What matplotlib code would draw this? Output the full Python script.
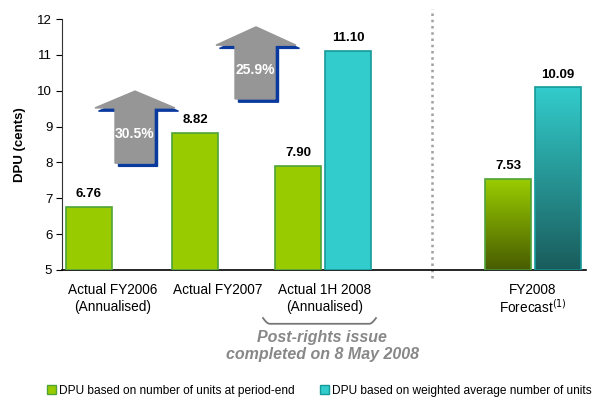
import numpy as np
import matplotlib.pyplot as plt
from matplotlib.patches import Polygon, Patch
from matplotlib.colors import LinearSegmentedColormap

plt.rcParams['font.family'] = ['Liberation Sans', 'DejaVu Sans']

# data
categories = ["Actual FY2006\n(Annualised)", "Actual FY2007",
              "Actual 1H 2008\n(Annualised)", "FY2008\nForecast$^{(1)}$"]
period_end = [6.76, 8.82, 7.90, 7.53]
weighted = [None, None, 11.10, 10.09]
growth = ["30.5%", "25.9%"]
series_names = ["DPU based on number of units at period-end",
                "DPU based on weighted average number of units"]

# layout (x in axes units)
green_x = [0.54, 2.66, 4.72, 8.92]
cyan_x = [None, None, 5.72, 9.92]
label_x = [1.02, 3.12, 5.26, 9.42]
bar_w = 0.92
GREEN, GREEN_EDGE = "#99cc00", "#4fa33a"
CYAN, CYAN_EDGE = "#33cccc", "#159a9a"

W, H = 600, 399
fig = plt.figure(figsize=(6.0, 3.99), dpi=100)
ax = fig.add_axes([62 / W, 1 - 270 / H, 524 / W, 251 / H])
ax.set_xlim(0, 10.48)
ax.set_ylim(5, 12)


def gradient_bar(x, h, top, bottom, edge):
    b = ax.bar(x, h - 5, bottom=5, width=bar_w, color="none",
               edgecolor=edge, linewidth=1.2, zorder=3)[0]
    cmap = LinearSegmentedColormap.from_list("g", [bottom, top])
    grad = np.linspace(0, 1, 256).reshape(-1, 1)
    im = ax.imshow(grad, cmap=cmap, origin="lower", aspect="auto",
                   extent=[x - bar_w / 2, x + bar_w / 2, 5, h], zorder=2)
    im.set_clip_path(b)


for i, (x, v) in enumerate(zip(green_x, period_end)):
    if i == 3:
        gradient_bar(x, v, GREEN, "#485c00", GREEN_EDGE)
    else:
        ax.bar(x, v - 5, bottom=5, width=bar_w, color=GREEN,
               edgecolor=GREEN_EDGE, linewidth=1.2, zorder=3)
    ax.annotate(f"{v:.2f}", (x, v), xytext=(0, 5), textcoords="offset points",
                ha="center", va="bottom", fontsize=9.5, fontweight="bold")

for i, (x, v) in enumerate(zip(cyan_x, weighted)):
    if v is None:
        continue
    if i == 3:
        gradient_bar(x, v, CYAN, "#1a5c5c", CYAN_EDGE)
    else:
        ax.bar(x, v - 5, bottom=5, width=bar_w, color=CYAN,
               edgecolor=CYAN_EDGE, linewidth=1.2, zorder=3)
    ax.annotate(f"{v:.2f}", (x, v), xytext=(0, 5), textcoords="offset points",
                ha="center", va="bottom", fontsize=9.5, fontweight="bold")

ax.set_xlim(0, 10.48)
ax.set_ylim(5, 12)

# growth arrows
arrows = [(0.66, 2.26, 1.06, 1.84, 9.99, 9.52, 7.98),
          (3.08, 4.68, 3.46, 4.26, 11.78, 11.27, 9.77)]
for (l, r, sl, sr, top, hb, bot), txt in zip(arrows, growth):
    cx = (l + r) / 2
    pts = [(l, hb), (cx, top), (r, hb), (sr, hb), (sr, bot), (sl, bot), (sl, hb)]
    dx, dy = 0.07, -0.09
    shadow = [(px + dx, py + dy) for px, py in pts]
    ax.add_patch(Polygon(shadow, closed=True, color="#0a3a9e", zorder=4))
    ax.add_patch(Polygon(pts, closed=True, color="#969696", zorder=5))
    ax.text((sl + sr) / 2, (hb + bot) / 2 + 0.05, txt, ha="center", va="center",
            color="white", fontsize=10, fontweight="bold", zorder=6)

# separator
ax.axvline(7.4, ymin=-0.03, ymax=1.04, color="#a0a0a0", linestyle=(0, (1, 1.5)),
           linewidth=1.8, clip_on=False)

for s in ["top", "right"]:
    ax.spines[s].set_visible(False)
ax.spines["left"].set_color("#333333")
ax.spines["bottom"].set_color("black")
ax.spines["bottom"].set_linewidth(1.2)
ax.set_xticks([])
ax.set_yticks(range(5, 13))
ax.tick_params(axis="y", length=4, labelsize=9.5, pad=3)
ax.set_ylabel("DPU (cents)", fontsize=9.5, fontweight="bold", labelpad=8)

# category labels, one text per line
line_y = [4.44, 3.97]
for x, lab in zip(label_x, categories):
    for y, line in zip(line_y, lab.split("\n")):
        ax.text(x, y, line, ha="center", va="center", fontsize=9.8, clip_on=False)

# brace under 1H 2008
bx0, bx1 = 4.02, 6.28
by_top, by_bot = 3.66, 3.50
t = np.linspace(0, 1, 100)
bx = bx0 + (bx1 - bx0) * t
r = 0.06
by = np.where(t < r, by_top - (by_top - by_bot) * np.sin(np.pi / 2 * t / r),
              np.where(t > 1 - r, by_top - (by_top - by_bot) * np.sin(np.pi / 2 * (1 - t) / r), by_bot))
ax.plot(bx, by, color="#777777", linewidth=1.3, clip_on=False)
ax.text(5.2, 3.33, "Post-rights issue\ncompleted on 8 May 2008", ha="center", va="top",
        fontsize=11.5, fontweight="bold", style="italic", color="#888888",
        linespacing=1.15, clip_on=False)

handles = [Patch(facecolor=GREEN, edgecolor=GREEN_EDGE),
           Patch(facecolor=CYAN, edgecolor=CYAN_EDGE)]
fig.legend(handles, series_names, loc="center left", bbox_to_anchor=(47 / W, 1 - 391 / H),
           ncol=2, frameon=False, fontsize=8.6, handlelength=0.75, handleheight=0.75,
           handletextpad=0.25, columnspacing=2.1, borderaxespad=0, borderpad=0)

fig.savefig("out.png", dpi=100)
